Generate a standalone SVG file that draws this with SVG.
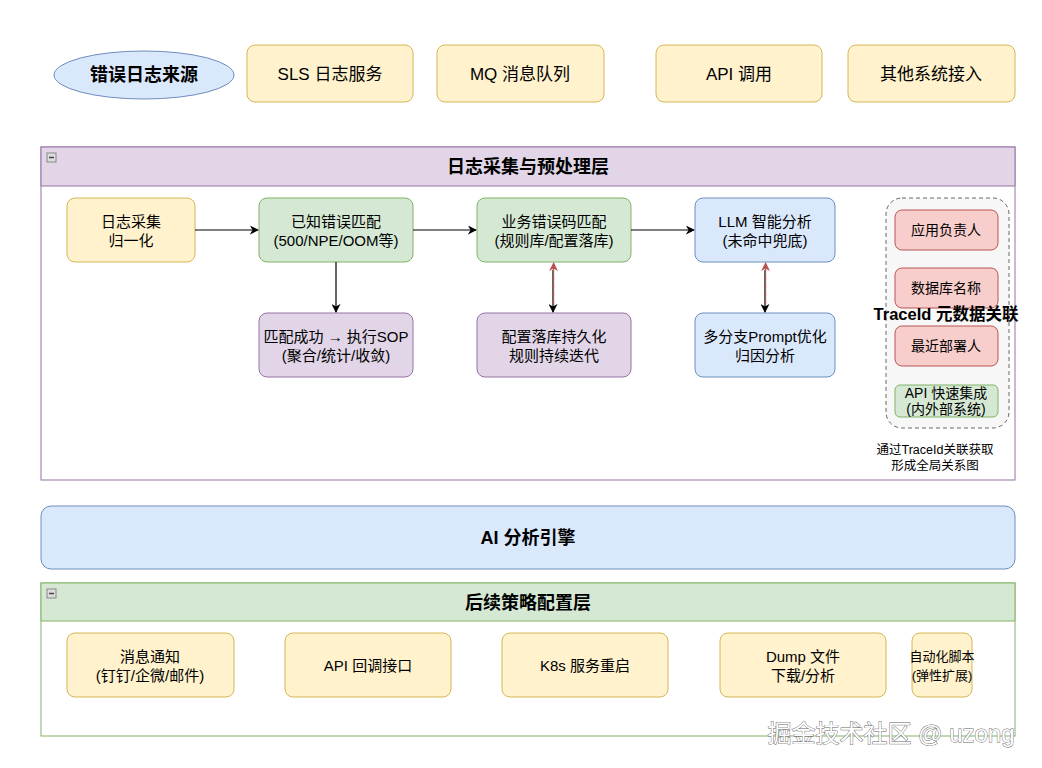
<svg xmlns="http://www.w3.org/2000/svg" width="1042" height="768" viewBox="0 0 1042 768">
<defs>
<style>
text{font-family:"Liberation Sans","Noto Sans CJK SC",sans-serif;font-size:15px;fill:#000;text-anchor:middle;dominant-baseline:central}
.b{font-weight:bold;font-size:18px}
.t{font-size:17px}
.s{font-size:12.5px}
.yel{fill:#fff2cc;stroke:#d6b656;stroke-width:1}
.grn{fill:#d5e8d4;stroke:#82b366;stroke-width:1}
.blu{fill:#dae8fc;stroke:#6c8ebf;stroke-width:1}
.pur{fill:#e1d5e7;stroke:#9673a6;stroke-width:1}
.red{fill:#f8cecc;stroke:#b85450;stroke-width:1}
.edge{stroke:#000;stroke-width:1.2;fill:none}
.edgeR{stroke:#b85450;stroke-width:1.2;fill:none}
.mini{fill:#ddd;stroke:#888;stroke-width:1}
</style>
<marker id="ah" viewBox="0 0 10 10" refX="9" refY="5" markerWidth="9" markerHeight="9" orient="auto" markerUnits="userSpaceOnUse"><path d="M0,0 L10,5 L0,10 L3,5 Z" fill="#000"/></marker>
<marker id="ahR" viewBox="0 0 10 10" refX="9" refY="5" markerWidth="9" markerHeight="9" orient="auto" markerUnits="userSpaceOnUse"><path d="M0,0 L10,5 L0,10 L3,5 Z" fill="#b85450"/></marker>
</defs>
<rect width="1042" height="768" fill="#fff"/>

<g id="source">
<ellipse cx="144" cy="75" rx="90" ry="24" class="blu"/>
<text x="144" y="75" class="b">错误日志来源</text>
</g>
<g id="sls"><rect x="247" y="45" width="166" height="57" rx="8" class="yel"/><text x="330" y="74" class="t">SLS 日志服务</text></g>
<g id="mq"><rect x="437" y="45" width="167" height="57" rx="8" class="yel"/><text x="520" y="74" class="t">MQ 消息队列</text></g>
<g id="api"><rect x="656" y="45" width="166" height="57" rx="8" class="yel"/><text x="739" y="74" class="t">API 调用</text></g>
<g id="other"><rect x="848" y="45" width="167" height="57" rx="8" class="yel"/><text x="931" y="74" class="t">其他系统接入</text></g>

<g id="layer1">
<rect x="41" y="147" width="974" height="333" fill="#fff" stroke="#9673a6" stroke-width="1"/>
<rect x="41" y="147" width="974" height="39" class="pur"/>
<rect x="47" y="153" width="9" height="9" class="mini"/><line x1="49" y1="157.5" x2="54" y2="157.5" stroke="#444" stroke-width="1.5"/>
<text x="528" y="167" class="b">日志采集与预处理层</text>
</g>

<g id="collect"><rect x="67" y="198" width="128" height="64" rx="8" class="yel"/><text x="131" y="221">日志采集</text><text x="131" y="240">归一化</text></g>
<g id="known"><rect x="259" y="198" width="154" height="64" rx="8" class="grn"/><text x="336" y="221">已知错误匹配</text><text x="336" y="240">(500/NPE/OOM等)</text></g>
<g id="bizcode"><rect x="477" y="198" width="154" height="64" rx="8" class="grn"/><text x="554" y="221">业务错误码匹配</text><text x="554" y="240">(规则库/配置落库)</text></g>
<g id="llm"><rect x="695" y="198" width="140" height="64" rx="8" class="blu"/><text x="765" y="221">LLM 智能分析</text><text x="765" y="240">(未命中兜底)</text></g>
<g id="sop"><rect x="259" y="313" width="154" height="64" rx="8" class="pur"/><text x="336" y="336">匹配成功 → 执行SOP</text><text x="336" y="355">(聚合/统计/收敛)</text></g>
<g id="persist"><rect x="477" y="313" width="154" height="64" rx="8" class="pur"/><text x="554" y="336">配置落库持久化</text><text x="554" y="355">规则持续迭代</text></g>
<g id="prompt"><rect x="695" y="313" width="140" height="64" rx="8" class="blu"/><text x="765" y="336">多分支Prompt优化</text><text x="765" y="355">归因分析</text></g>

<g id="traceid">
<rect x="886" y="198" width="123" height="230" rx="16" fill="#f7f7f7" stroke="#666" stroke-width="1" stroke-dasharray="4 3"/>
<g id="owner"><rect x="895" y="210" width="103" height="40" rx="7" class="red"/><text x="946" y="230" style="font-size:14px">应用负责人</text></g>
<g id="dbname"><rect x="895" y="268" width="103" height="40" rx="7" class="red"/><text x="946" y="288" style="font-size:14px">数据库名称</text></g>
<g id="deployer"><rect x="895" y="326" width="103" height="40" rx="7" class="red"/><text x="946" y="346" style="font-size:14px">最近部署人</text></g>
<g id="apiint"><rect x="895" y="385" width="103" height="32" rx="5" class="grn"/><text x="946" y="393" style="font-size:14px">API 快速集成</text><text x="946" y="409" style="font-size:14px">(内外部系统)</text></g>
<text x="946" y="314" class="b" style="font-size:16.5px">TraceId 元数据关联</text>
<text x="935" y="450" class="s">通过TraceId关联获取</text>
<text x="935" y="466" class="s">形成全局关系图</text>
</g>

<g id="engine"><rect x="41" y="506" width="974" height="63" rx="10" class="blu"/><text x="528" y="538" class="b">AI 分析引擎</text></g>

<g id="layer2">
<rect x="41" y="583" width="974" height="153" fill="#fff" stroke="#82b366" stroke-width="1"/>
<rect x="41" y="583" width="974" height="38" class="grn"/>
<rect x="47" y="589" width="9" height="9" class="mini"/><line x1="49" y1="593.5" x2="54" y2="593.5" stroke="#444" stroke-width="1.5"/>
<text x="528" y="603" class="b">后续策略配置层</text>
</g>
<g id="notify"><rect x="67" y="633" width="167" height="64" rx="8" class="yel"/><text x="150" y="656">消息通知</text><text x="150" y="675">(钉钉/企微/邮件)</text></g>
<g id="callback"><rect x="285" y="633" width="166" height="64" rx="8" class="yel"/><text x="368" y="665">API 回调接口</text></g>
<g id="k8s"><rect x="502" y="633" width="166" height="64" rx="8" class="yel"/><text x="585" y="665">K8s 服务重启</text></g>
<g id="dump"><rect x="720" y="633" width="166" height="64" rx="8" class="yel"/><text x="803" y="656">Dump 文件</text><text x="803" y="675">下载/分析</text></g>
<g id="script"><rect x="912" y="633" width="60" height="64" rx="8" class="yel"/><text x="942" y="656" style="font-size:13px">自动化脚本</text><text x="942" y="675" style="font-size:13px">(弹性扩展)</text></g>

<g id="connectors">
<line x1="195" y1="230" x2="258" y2="230" class="edge" marker-end="url(#ah)"/>
<line x1="413" y1="230" x2="476" y2="230" class="edge" marker-end="url(#ah)"/>
<line x1="631" y1="230" x2="694" y2="230" class="edge" marker-end="url(#ah)"/>
<line x1="336" y1="262" x2="336" y2="312" class="edge" marker-end="url(#ah)"/>
<line x1="553" y1="270" x2="553" y2="312" class="edge" marker-end="url(#ah)"/>
<line x1="553.6" y1="305" x2="553.6" y2="263" class="edgeR" marker-end="url(#ahR)" stroke-dasharray="6 2"/>
<line x1="765" y1="270" x2="765" y2="312" class="edge" marker-end="url(#ah)"/>
<line x1="765.6" y1="305" x2="765.6" y2="263" class="edgeR" marker-end="url(#ahR)" stroke-dasharray="6 2"/>
</g>

<text x="891" y="733" style="font-size:24px;fill:#fff;stroke:#666;stroke-width:0.9;paint-order:stroke">掘金技术社区 @ uzong</text>
</svg>
